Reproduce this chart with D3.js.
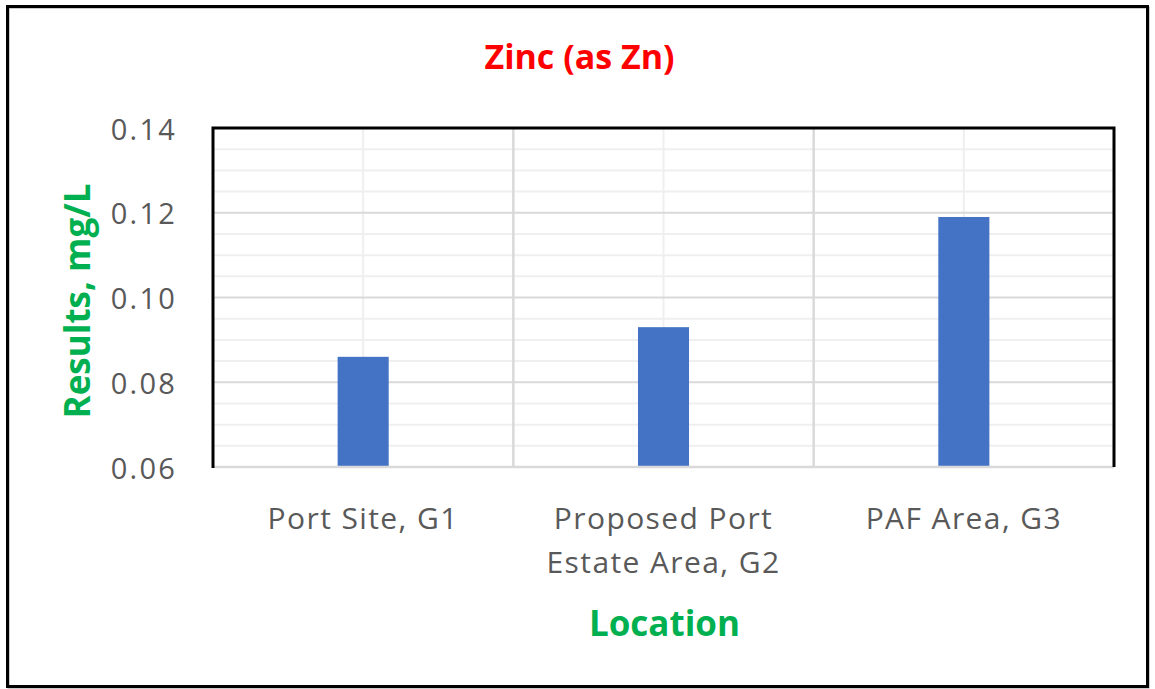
<!DOCTYPE html>
<html>
<head>
<meta charset="utf-8">
<script src="https://cdn.jsdelivr.net/npm/d3@7"></script>
<style>
  html, body { margin: 0; padding: 0; background: #fff; }
  svg { display: block; }
  text { font-family: "Open Sans", "Noto Sans", sans-serif; }
</style>
</head>
<body>
<svg id="chart" width="1155" height="689"></svg>
<script>
const categories = ["Port Site, G1", "Proposed Port Estate Area, G2", "PAF Area, G3"];
const values = [0.086, 0.093, 0.119];
const yDomain = [0.06, 0.14];
const yTickLabels = [0.06, 0.08, 0.10, 0.12, 0.14];
const title = "Zinc (as Zn)";
const xTitle = "Location";
const yTitle = "Results, mg/L";

const svg = d3.select("#chart");
const W = 1155, H = 689;
const m = { left: 213, right: 1114, top: 128, bottom: 467 };

svg.append("rect").attr("x", 0).attr("y", 0).attr("width", W).attr("height", H).attr("fill", "#fff");

// outer frame
svg.append("rect").attr("x", 8.5).attr("y", 7.5).attr("width", 1140).attr("height", 680)
  .attr("fill", "none").attr("stroke", "#9a9a9a").attr("stroke-width", 2);
svg.append("rect").attr("x", 7.5).attr("y", 6.5).attr("width", 1140).attr("height", 680)
  .attr("fill", "none").attr("stroke", "#000").attr("stroke-width", 3);

const x = d3.scaleBand().domain(categories).range([m.left, m.right]).padding(0);
const y = d3.scaleLinear().domain(yDomain).range([m.bottom, m.top]);

const g = svg.append("g");

// minor horizontal gridlines
const minorTicks = y.ticks(16);
g.selectAll(".hminor").data(minorTicks.filter(t => !yTickLabels.some(v => Math.abs(v - t) < 1e-9)))
  .join("line")
  .attr("x1", m.left).attr("x2", m.right)
  .attr("y1", d => y(d)).attr("y2", d => y(d))
  .attr("stroke", "#efefef").attr("stroke-width", 2);

// minor vertical gridlines at category centers
g.selectAll(".vminor").data(categories).join("line")
  .attr("x1", d => x(d) + x.bandwidth() / 2).attr("x2", d => x(d) + x.bandwidth() / 2)
  .attr("y1", m.top).attr("y2", m.bottom)
  .attr("stroke", "#efefef").attr("stroke-width", 2);

// major horizontal gridlines
g.selectAll(".hmajor").data(yTickLabels).join("line")
  .attr("x1", m.left).attr("x2", m.right)
  .attr("y1", d => y(d)).attr("y2", d => y(d))
  .attr("stroke", "#d9d9d9").attr("stroke-width", 2);

// major vertical gridlines at category boundaries
g.selectAll(".vmajor").data(categories.slice(1)).join("line")
  .attr("x1", d => x(d)).attr("x2", d => x(d))
  .attr("y1", m.top).attr("y2", m.bottom)
  .attr("stroke", "#d9d9d9").attr("stroke-width", 2.5);

// bars
const barW = x.bandwidth() * 0.17;
g.selectAll(".bar").data(values).join("rect")
  .attr("x", (d, i) => x(categories[i]) + x.bandwidth() / 2 - barW / 2)
  .attr("y", d => y(d))
  .attr("width", barW)
  .attr("height", d => y(yDomain[0]) - y(d))
  .attr("fill", "#4472c4");

// bottom axis line
g.append("line").attr("x1", m.left).attr("x2", m.right)
  .attr("y1", m.bottom).attr("y2", m.bottom)
  .attr("stroke", "#d9d9d9").attr("stroke-width", 2.5);

// plot border (top, left, right)
g.append("path")
  .attr("d", `M${m.left},${m.bottom + 1}V${m.top}H${m.right}V${m.bottom}`)
  .attr("fill", "none").attr("stroke", "#000").attr("stroke-width", 3);

// y tick labels
svg.selectAll(".ytick").data(yTickLabels).join("text")
  .attr("x", 177).attr("y", d => y(d))
  .attr("text-anchor", "end").attr("dominant-baseline", "central")
  .attr("font-size", 29).attr("letter-spacing", 2.2)
  .attr("fill", "#595959")
  .text(d3.format(".2f"));

// category labels with wrapping
const catG = svg.selectAll(".cat").data(categories).join("text")
  .attr("text-anchor", "middle")
  .attr("font-size", 30).attr("letter-spacing", 1.4)
  .attr("fill", "#595959");
catG.each(function (d) {
  const t = d3.select(this);
  const cx = x(d) + x.bandwidth() / 2;
  const words = d.split(" ");
  const lines = [];
  let line = [];
  const probe = t.append("tspan");
  words.forEach(w => {
    const test = line.concat(w).join(" ");
    probe.text(test);
    if (probe.node().getComputedTextLength() > 260 && line.length) {
      lines.push(line.join(" "));
      line = [w];
    } else {
      line.push(w);
    }
  });
  lines.push(line.join(" "));
  probe.remove();
  lines.forEach((l, i) => {
    t.append("tspan").attr("x", cx).attr("y", 529 + i * 44).text(l);
  });
});

// title
svg.append("text").attr("x", (m.left + m.right) / 2 - 84).attr("y", 69)
  .attr("text-anchor", "middle").attr("font-size", 34).attr("font-weight", 700)
  .attr("fill", "#ff0000").text(title);

// x title
svg.append("text").attr("x", (m.left + m.right) / 2 + 1).attr("y", 636)
  .attr("text-anchor", "middle").attr("font-size", 35).attr("font-weight", 700)
  .attr("fill", "#00b050").text(xTitle);

// y title
svg.append("text").attr("transform", `translate(90, ${(175 + 427) / 2}) rotate(-90)`)
  .attr("text-anchor", "middle").attr("font-size", 35).attr("font-weight", 700)
  .attr("fill", "#00b050").text(yTitle);
</script>
</body>
</html>
